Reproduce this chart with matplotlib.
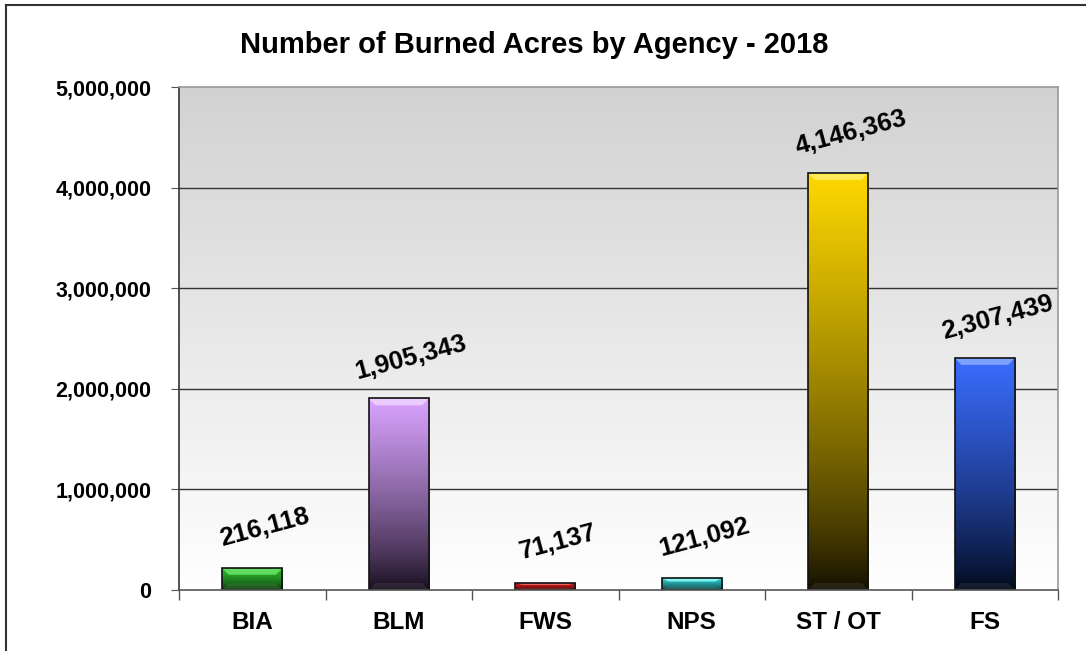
import matplotlib.pyplot as plt
import numpy as np
from matplotlib.colors import LinearSegmentedColormap
from matplotlib.patches import Rectangle, Polygon
from matplotlib.lines import Line2D
from matplotlib.ticker import FuncFormatter

plt.rcParams['font.family'] = ['Liberation Sans', 'DejaVu Sans']

agencies = ["BIA", "BLM", "FWS", "NPS", "ST / OT", "FS"]
acres = [216118, 1905343, 71137, 121092, 4146363, 2307439]
top_colors = ["#2fbf2f", "#d9a3ff", "#e02020", "#33e0e0", "#ffd800", "#3a6dff"]
bottom_colors = ["#083008", "#120a18", "#400606", "#083030", "#100c00", "#000614"]
light_colors = ["#6fe86f", "#f0d6ff", "#ff7070", "#99ffff", "#fff070", "#8fb0ff"]

fig = plt.figure(figsize=(10.88, 6.51), dpi=100)
ax = fig.add_axes([179 / 1088, 1 - 590 / 651, 879 / 1088, 503 / 651])

# outer frame (left and top edges visible)
fig.add_artist(Line2D([6 / 1088, 6 / 1088], [0, 1 - 5 / 651], transform=fig.transFigure,
                      color="#333333", lw=1.5))
fig.add_artist(Line2D([6 / 1088, 1085 / 1088], [1 - 5 / 651, 1 - 5 / 651], transform=fig.transFigure,
                      color="#333333", lw=1.5))

# plot area gradient: gray at top, white at bottom
bg = np.linspace(0, 1, 256).reshape(-1, 1)
bg_cmap = LinearSegmentedColormap.from_list("bg", ["#ffffff", "#d2d2d2"])
ax.imshow(bg, extent=[0, 1, 0, 1], transform=ax.transAxes, cmap=bg_cmap,
          origin="lower", aspect="auto", zorder=0)

ax.set_xlim(-0.5, len(agencies) - 0.5)
ax.set_ylim(0, 5000000)

for y in [1000000, 2000000, 3000000, 4000000]:
    ax.axhline(y, color="#333333", lw=1, zorder=1)

w = 0.41
px_y = 5000000 / 503
for i, v in enumerate(acres):
    x0 = i - w / 2
    rect = Rectangle((x0, 0), w, v, facecolor="none", edgecolor="#111111", lw=1.2, zorder=4)
    ax.add_patch(rect)
    cmap = LinearSegmentedColormap.from_list("b%d" % i, [bottom_colors[i], top_colors[i]])
    grad = np.linspace(0, 1, 256).reshape(-1, 1) ** 0.75
    im = ax.imshow(grad, extent=[x0, x0 + w, 0, v], cmap=cmap, origin="lower",
                   aspect="auto", zorder=2)
    im.set_clip_path(rect)
    # bevel highlight on top
    bh = min(7 * px_y, v * 0.3)
    bx = 0.045
    ax.add_patch(Polygon([(x0, v), (x0 + w, v), (x0 + w - bx, v - bh), (x0 + bx, v - bh)],
                         closed=True, facecolor=light_colors[i], edgecolor="none", alpha=0.8, zorder=3))
    # bevel at bottom
    ax.add_patch(Polygon([(x0, 0), (x0 + w, 0), (x0 + w - bx, bh), (x0 + bx, bh)],
                         closed=True, facecolor="#ffffff", edgecolor="none", alpha=0.08, zorder=3))
    ax.annotate("{:,}".format(v), (i, v), xytext=(9, 29), textcoords="offset points",
                ha="center", va="center", rotation=15, fontsize=18.5, fontweight="bold",
                zorder=5)

ax.set_yticks([0, 1000000, 2000000, 3000000, 4000000, 5000000])
ax.yaxis.set_major_formatter(FuncFormatter(lambda v, p: "{:,}".format(int(v))))
ax.set_xticks(range(len(agencies)))
ax.set_xticklabels(agencies)
ax.set_xticks(np.arange(-0.5, len(agencies)), minor=True)
ax.tick_params(axis="x", which="major", length=0, pad=15, labelsize=17.5)
ax.tick_params(axis="x", which="minor", length=7, color="#555555", width=1)
ax.tick_params(axis="y", length=6, color="#555555", pad=14, labelsize=15.5)
for lab in ax.get_xticklabels() + ax.get_yticklabels():
    lab.set_fontweight("bold")

ax.spines["left"].set_color("#333333")
ax.spines["bottom"].set_color("#555555")
ax.spines["top"].set_color("#999999")
ax.spines["right"].set_color("#999999")
for s in ax.spines.values():
    s.set_linewidth(1.2)
    s.set_zorder(6)

fig.text(534 / 1088, 1 - 45 / 651, "Number of Burned Acres by Agency - 2018",
         ha="center", va="center", fontsize=21, fontweight="bold")

plt.savefig("out.png", dpi=100)
